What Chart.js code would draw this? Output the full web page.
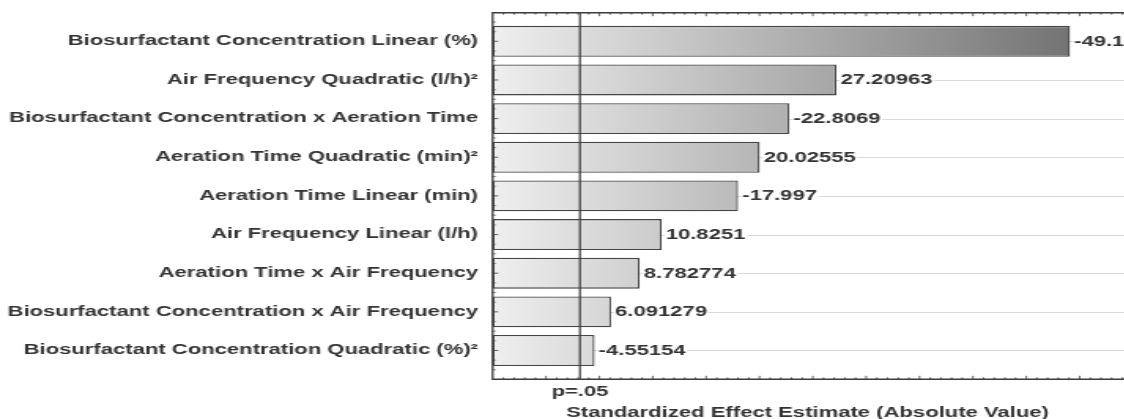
<!DOCTYPE html>
<html><head><meta charset="utf-8">
<script src="https://cdn.jsdelivr.net/npm/chart.js@4.4.1/dist/chart.umd.min.js"></script>
<style>
html,body{margin:0;padding:0;overflow:hidden;background:#fff;width:1124px;height:419px;}
#wrap{position:absolute;left:0;top:0;width:760px;height:419px;transform:scaleX(1.575);transform-origin:0 0;}
canvas{display:block;}
</style></head><body>
<div id="wrap"><canvas id="c" width="760" height="419"></canvas></div>
<script>
const categories = [
  'Biosurfactant Concentration Linear (%)',
  'Air Frequency Quadratic (l/h)\u00B2',
  'Biosurfactant Concentration x Aeration Time',
  'Aeration Time Quadratic (min)\u00B2',
  'Aeration Time Linear (min)',
  'Air Frequency Linear (l/h)',
  'Aeration Time x Air Frequency',
  'Biosurfactant Concentration x Air Frequency',
  'Biosurfactant Concentration Quadratic (%)\u00B2'
];
const effects = [-49.1, 27.20963, -22.8069, 20.02555, -17.997, 10.8251, 8.782774, 6.091279, -4.55154];
const pCritical = 3.18;
const pLabel = 'p=.05';
const xTitle = 'Standardized Effect Estimate (Absolute Value)';
const xMin = -5, xMax = 61, minorStep = 1, majorStep = 5;

const FONT = '"Liberation Sans", Arial, sans-serif';
const TEXT = '#333333';

const decor = {
  id: 'decor',
  beforeDatasetsDraw(chart) {
    const {ctx, chartArea: ca, scales: {y}} = chart;
    ctx.save();
    ctx.strokeStyle = '#dadada';
    ctx.lineWidth = 1;
    categories.forEach((c, i) => {
      const yy = Math.round(y.getPixelForValue(i)) + 0.5;
      ctx.beginPath(); ctx.moveTo(ca.left, yy); ctx.lineTo(chart.width, yy); ctx.stroke();
    });
    ctx.restore();
  },
  afterDatasetsDraw(chart) {
    const {ctx, chartArea: ca, scales: {x, y}} = chart;
    const fTop = ca.top - 9.3, fBot = ca.bottom + 9.5;
    ctx.save();
    // value labels
    ctx.font = 'bold 14px ' + FONT;
    ctx.textBaseline = 'middle';
    ctx.textAlign = 'left';
    effects.forEach((e, i) => {
      const s = String(e);
      const tx = x.getPixelForValue(Math.abs(e)) + 2.6;
      const ty = y.getPixelForValue(i);
      const w = ctx.measureText(s).width;
      ctx.fillStyle = '#fff';
      ctx.fillRect(tx - 0.5, ty - 7, w + 1.5, 14);
      ctx.fillStyle = TEXT;
      ctx.fillText(s, tx, ty + 0.5);
    });
    // frame
    ctx.strokeStyle = '#3c3c3c';
    ctx.lineWidth = 1.6;
    ctx.beginPath(); ctx.moveTo(ca.left, fTop); ctx.lineTo(chart.width, fTop); ctx.stroke();
    ctx.beginPath(); ctx.moveTo(ca.left, fBot); ctx.lineTo(chart.width, fBot); ctx.stroke();
    ctx.lineWidth = 1.3;
    ctx.beginPath(); ctx.moveTo(ca.left, fTop - 0.8); ctx.lineTo(ca.left, fBot + 0.8); ctx.stroke();
    // p line
    const px = x.getPixelForValue(pCritical);
    ctx.strokeStyle = '#444';
    ctx.lineWidth = 1.3;
    ctx.beginPath(); ctx.moveTo(px, fTop); ctx.lineTo(px, fBot); ctx.stroke();
    // x ticks
    ctx.strokeStyle = '#3c3c3c';
    ctx.lineWidth = 0.8;
    for (let v = xMin; v <= xMax; v += minorStep) {
      const xx = x.getPixelForValue(v);
      if (xx <= ca.left + 1) continue;
      const len = (v % majorStep === 0) ? 3.5 : 2;
      ctx.beginPath(); ctx.moveTo(xx, fTop); ctx.lineTo(xx, fTop + len); ctx.stroke();
      ctx.beginPath(); ctx.moveTo(xx, fBot); ctx.lineTo(xx, fBot - len); ctx.stroke();
    }
    // y ticks
    const band = y.getPixelForValue(1) - y.getPixelForValue(0);
    const c0 = y.getPixelForValue(0);
    for (let k = -2; k <= categories.length * 4 + 2; k++) {
      const yy = c0 + (k / 4) * band;
      if (yy < fTop + 1 || yy > fBot - 1) continue;
      const len = (k % 4 === 0) ? 3.5 : 1.8;
      ctx.beginPath(); ctx.moveTo(ca.left, yy); ctx.lineTo(ca.left + len, yy); ctx.stroke();
    }
    // p label and title
    ctx.fillStyle = TEXT;
    ctx.textAlign = 'center';
    ctx.font = 'bold 14px ' + FONT;
    ctx.fillText(pLabel, px, 392.5);
    ctx.fillText(xTitle, 512.7, 413);
    ctx.restore();
  }
};

new Chart(document.getElementById('c'), {
  type: 'bar',
  data: {
    labels: categories,
    datasets: [{
      data: effects.map(v => Math.abs(v)),
      base: xMin,
      backgroundColor: (c) => {
        const ch = c.chart, ca = ch.chartArea;
        if (!ca) return '#cccccc';
        const g = ch.ctx.createLinearGradient(ca.left, 0, 678.7, 0);
        g.addColorStop(0, '#efefef');
        g.addColorStop(1, '#747474');
        return g;
      },
      borderColor: '#454545',
      borderWidth: 1.3,
      borderSkipped: false,
      barPercentage: 0.8,
      categoryPercentage: 1
    }]
  },
  options: {
    indexAxis: 'y',
    responsive: false,
    animation: false,
    devicePixelRatio: 1,
    layout: {padding: {top: 22, bottom: 49.2, left: 0, right: 0}},
    plugins: {legend: {display: false}, tooltip: {enabled: false}},
    scales: {
      x: {type: 'linear', min: xMin, max: xMax, display: false},
      y: {
        display: true,
        grid: {display: false, drawTicks: false},
        border: {display: false},
        ticks: {autoSkip: false, padding: 9.3, color: TEXT, font: {family: FONT, size: 14, weight: 'bold'}},
        afterFit(s) { s.width = 312.8; }
      }
    }
  },
  plugins: [decor]
});
</script>
</body></html>
